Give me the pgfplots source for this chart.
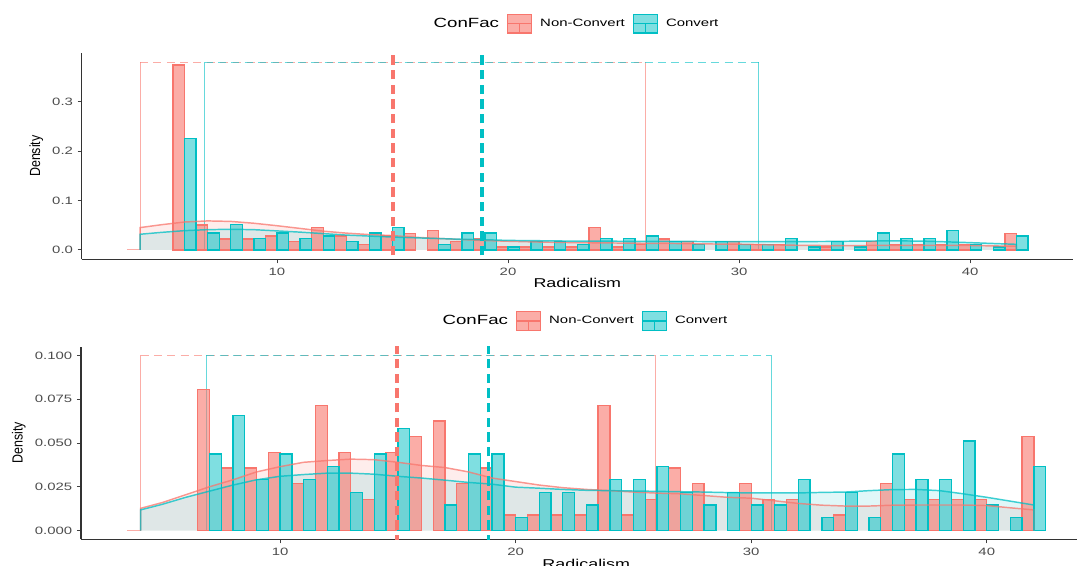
\documentclass[border=0pt]{standalone}
\usepackage{fontspec}
\setmainfont[FakeStretch=1.4]{Liberation Sans}
\newfontfamily\plainsans[FakeStretch=0.85]{Liberation Sans}
\usepackage{pgfplots}
\usepackage{pgfplotstable}
\pgfplotsset{compat=1.18}
\definecolor{ncred}{HTML}{F8766D}
\definecolor{cvteal}{HTML}{00BFC4}

% ---------- histogram densities (bin width 1) ----------
\pgfplotstableread{
x y
6 0.3743
7 0.0503
8 0.0223
9 0.0223
10 0.0279
11 0.0168
12 0.0447
13 0.0279
14 0.0112
15 0.0279
16 0.0335
17 0.0391
18 0.0168
19 0.0223
20 0.0056
21 0.0056
22 0.0056
23 0.0056
24 0.0447
25 0.0056
26 0.0112
27 0.0223
28 0.0168
30 0.0168
31 0.0112
32 0.0112
34 0.0056
36 0.0168
37 0.0112
38 0.0112
39 0.0112
40 0.0112
42 0.0335
}\redTopBars
\pgfplotstableread{
x y
6 0.2260
7 0.0339
8 0.0508
9 0.0226
10 0.0339
11 0.0226
12 0.0282
13 0.0169
14 0.0339
15 0.0452
17 0.0113
18 0.0339
19 0.0339
20 0.0056
21 0.0169
22 0.0169
23 0.0113
24 0.0226
25 0.0226
26 0.0282
27 0.0169
28 0.0113
29 0.0169
30 0.0113
31 0.0113
32 0.0226
33 0.0056
34 0.0169
35 0.0056
36 0.0339
37 0.0226
38 0.0226
39 0.0395
40 0.0113
41 0.0056
42 0.0282
}\tealTopBars
\pgfplotstableread{
x y
7 0.0804
8 0.0357
9 0.0357
10 0.0446
11 0.0268
12 0.0714
13 0.0446
14 0.0179
15 0.0446
16 0.0536
17 0.0625
18 0.0268
19 0.0357
20 0.0089
21 0.0089
22 0.0089
23 0.0089
24 0.0714
25 0.0089
26 0.0179
27 0.0357
28 0.0268
30 0.0268
31 0.0179
32 0.0179
34 0.0089
36 0.0268
37 0.0179
38 0.0179
39 0.0179
40 0.0179
42 0.0536
}\redBotBars
\pgfplotstableread{
x y
7 0.0438
8 0.0657
9 0.0292
10 0.0438
11 0.0292
12 0.0365
13 0.0219
14 0.0438
15 0.0584
17 0.0146
18 0.0438
19 0.0438
20 0.0073
21 0.0219
22 0.0219
23 0.0146
24 0.0292
25 0.0292
26 0.0365
27 0.0219
28 0.0146
29 0.0219
30 0.0146
31 0.0146
32 0.0292
33 0.0073
34 0.0219
35 0.0073
36 0.0438
37 0.0292
38 0.0292
39 0.0511
40 0.0146
41 0.0073
42 0.0365
}\tealBotBars

% ---------- kernel density curves ----------
\pgfplotstableread{
x y
4.08 0
4.08 0.0452
5 0.0510
6 0.0565
7 0.0587
8 0.0577
9 0.0540
10 0.0490
11 0.0435
12 0.0380
13 0.0340
14 0.0310
15 0.0290
16 0.0255
17 0.0232
18 0.0210
19 0.0190
20 0.0175
21 0.0163
22 0.0153
23 0.0147
24 0.0143
25 0.0138
26 0.0134
27 0.0131
28 0.0125
29 0.0119
30 0.0116
31 0.0106
32 0.0097
33 0.0091
34 0.0088
35 0.0088
36 0.0091
37 0.0091
38 0.0091
39 0.0091
40 0.0089
41 0.0081
42 0.0074
42 0
}\redTopDens
\pgfplotstableread{
x y
4.08 0
4.08 0.0317
5 0.0355
6 0.0390
7 0.0410
8 0.0418
9 0.0410
10 0.0385
11 0.0360
12 0.0330
13 0.0300
14 0.0280
15 0.0260
16 0.0245
17 0.0230
18 0.0215
19 0.0206
20 0.0192
21 0.0188
22 0.0182
23 0.0178
24 0.0177
25 0.0175
26 0.0174
27 0.0172
28 0.0171
29 0.0168
30 0.0167
31 0.0167
32 0.0167
33 0.0169
34 0.0171
35 0.0177
36 0.0181
37 0.0182
38 0.0177
39 0.0163
40 0.0147
41 0.0130
42 0.0113
42 0
}\tealTopDens
\pgfplotstableread{
x y
4.08 0
4.08 0.0127
5 0.0160
6 0.0205
7 0.0250
8 0.0290
9 0.0335
10 0.0365
11 0.0390
12 0.0400
13 0.0408
14 0.0405
15 0.0390
16 0.0372
17 0.0360
18 0.0335
19 0.0300
20 0.0280
21 0.0260
22 0.0245
23 0.0235
24 0.0228
25 0.0220
26 0.0214
27 0.0210
28 0.0200
29 0.0190
30 0.0185
31 0.0170
32 0.0155
33 0.0145
34 0.0140
35 0.0140
36 0.0145
37 0.0146
38 0.0146
39 0.0146
40 0.0143
41 0.0130
42 0.0118
42 0
}\redBotDens
\pgfplotstableread{
x y
4.08 0
4.08 0.0118
5 0.0150
6 0.0190
7 0.0225
8 0.0260
9 0.0290
10 0.0310
11 0.0320
12 0.0328
13 0.0328
14 0.0322
15 0.0310
16 0.0300
17 0.0288
18 0.0275
19 0.0265
20 0.0248
21 0.0242
22 0.0235
23 0.0230
24 0.0228
25 0.0226
26 0.0224
27 0.0222
28 0.0220
29 0.0217
30 0.0215
31 0.0215
32 0.0215
33 0.0218
34 0.0220
35 0.0228
36 0.0234
37 0.0235
38 0.0228
39 0.0210
40 0.0190
41 0.0168
42 0.0146
42 0
}\tealBotDens

\pgfplotsset{
  panel/.style={
    scale only axis,
    axis lines=left,
    axis line style={-, line width=0.95pt, black!80},
    tick align=outside,
    major tick length=3pt,
    tick style={black!75, line width=0.7pt},
    xmin=1.55, xmax=44.45,
    xtick={10,20,30,40}, xticklabels={10,20,30,40},
    tick label style={font=\fontsize{8}{9}\selectfont, text=black!70},
    xlabel={Radicalism},
    ylabel={Density},
    xlabel style={font=\fontsize{9.6}{11}\selectfont, yshift=4.5pt},
    ylabel style={font=\plainsans\fontsize{11}{12}\selectfont},
    legend columns=-1,
    legend style={draw=none, fill=none, font=\fontsize{8}{9}\selectfont,
      column sep=4pt, anchor=center},
  },
  redbar/.style={ybar, bar width=0.5, bar shift=-0.25, draw=ncred, fill=ncred,
    fill opacity=0.6, line width=1pt, forget plot},
  tealbar/.style={ybar, bar width=0.5, bar shift=0.25, draw=cvteal, fill=cvteal,
    fill opacity=0.5, line width=1pt, forget plot},
  redfill/.style={fill=ncred, fill opacity=0.13, draw=none, forget plot},
  tealfill/.style={fill=cvteal, fill opacity=0.12, draw=none, forget plot},
  redline/.style={ncred, draw opacity=0.75, line width=1.1pt, forget plot},
  tealline/.style={cvteal, draw opacity=0.75, line width=1.1pt, forget plot},
  redbox/.style={ncred, draw opacity=0.6, line width=0.85pt, forget plot},
  tealbox/.style={cvteal, draw opacity=0.6, line width=0.85pt, forget plot},
  boxdash/.style={dash pattern=on 6pt off 4pt},
  meanline/.style={line width=2.4pt, dash pattern=on 7pt off 4pt, forget plot},
  keyred/.style={legend image code/.code={
      \fill[ncred, fill opacity=0.6] (0pt,-7pt) rectangle (18pt,7pt);
      \draw[ncred, line width=0.9pt] (0pt,-7pt) rectangle (18pt,7pt);
      \draw[ncred, line width=0.9pt] (0pt,0pt)--(18pt,0pt) (9pt,0pt)--(9pt,-7pt);}},
  keyteal/.style={legend image code/.code={
      \fill[cvteal, fill opacity=0.5] (0pt,-7pt) rectangle (18pt,7pt);
      \draw[cvteal, line width=0.9pt] (0pt,-7pt) rectangle (18pt,7pt);
      \draw[cvteal, line width=0.9pt] (0pt,0pt)--(18pt,0pt) (9pt,0pt)--(9pt,-7pt);}},
}

\begin{document}
\begin{tikzpicture}
\useasboundingbox (0pt,0pt) rectangle (807.75pt,424.5pt);

% ================= TOP PANEL =================
\begin{axis}[panel,
  at={(61.275pt,230.03pt)}, anchor=south west,
  width=743.5pt, height=154.8pt,
  ymin=-0.019, ymax=0.399,
  ytick={0,0.1,0.2,0.3}, yticklabels={0.0,0.1,0.2,0.3},
  legend style={at={(0.5,1)}, yshift=22pt, xshift=-3pt},
]
\addlegendimage{empty legend}\addlegendentry{\fontsize{10}{12}\selectfont ConFac}
\addlegendimage{keyred}\addlegendentry{Non-Convert}
\addlegendimage{keyteal}\addlegendentry{Convert}

\addplot[redfill] table {\redTopDens} \closedcycle;
\addplot[tealfill] table {\tealTopDens} \closedcycle;

\addplot[redbox] coordinates {(4.08,0) (4.08,0.38)};
\addplot[redbox, boxdash] coordinates {(4.08,0.38) (25.95,0.38)};
\addplot[redbox] coordinates {(25.95,0.38) (25.95,0)};
\addplot[tealbox] coordinates {(6.87,0) (6.87,0.38)};
\addplot[tealbox, boxdash] coordinates {(6.87,0.38) (30.85,0.38)};
\addplot[tealbox] coordinates {(30.85,0.38) (30.85,0)};
\addplot[redbox] coordinates {(3.5,0) (4.08,0)};

\addplot[redbar] table {\redTopBars};
\addplot[tealbar] table {\tealTopBars};

\addplot[redline] table {\redTopDens};
\addplot[tealline] table {\tealTopDens};

\addplot[ncred, meanline] coordinates {(15.02,-0.1) (15.02,0.5)};
\addplot[cvteal, meanline] coordinates {(18.87,-0.1) (18.87,0.5)};
\end{axis}

% ================= BOTTOM PANEL =================
\begin{axis}[panel,
  at={(60.75pt,20.0pt)}, anchor=south west,
  width=757.95pt, height=144.45pt,
  ymin=-0.005, ymax=0.105,
  ytick={0,0.025,0.05,0.075,0.1},
  yticklabels={0.000,0.025,0.050,0.075,0.100},
  legend style={at={(0.5,1)}, yshift=19.3pt, xshift=-3pt},
]
\addlegendimage{empty legend}\addlegendentry{\fontsize{10}{12}\selectfont ConFac}
\addlegendimage{keyred}\addlegendentry{Non-Convert}
\addlegendimage{keyteal}\addlegendentry{Convert}

\addplot[redfill] table {\redBotDens} \closedcycle;
\addplot[tealfill] table {\tealBotDens} \closedcycle;

\addplot[redbox] coordinates {(4.08,0) (4.08,0.1)};
\addplot[redbox, boxdash] coordinates {(4.08,0.1) (25.95,0.1)};
\addplot[redbox] coordinates {(25.95,0.1) (25.95,0)};
\addplot[tealbox] coordinates {(6.87,0) (6.87,0.1)};
\addplot[tealbox, boxdash] coordinates {(6.87,0.1) (30.85,0.1)};
\addplot[tealbox] coordinates {(30.85,0.1) (30.85,0)};
\addplot[redbox] coordinates {(3.5,0) (4.08,0)};

\addplot[redbar] table {\redBotBars};
\addplot[tealbar] table {\tealBotBars};

\addplot[redline] table {\redBotDens};
\addplot[tealline] table {\tealBotDens};

\addplot[ncred, meanline] coordinates {(14.96,-0.1) (14.96,0.5)};
\addplot[cvteal, meanline] coordinates {(18.86,-0.1) (18.86,0.5)};
\end{axis}
\end{tikzpicture}
\end{document}
